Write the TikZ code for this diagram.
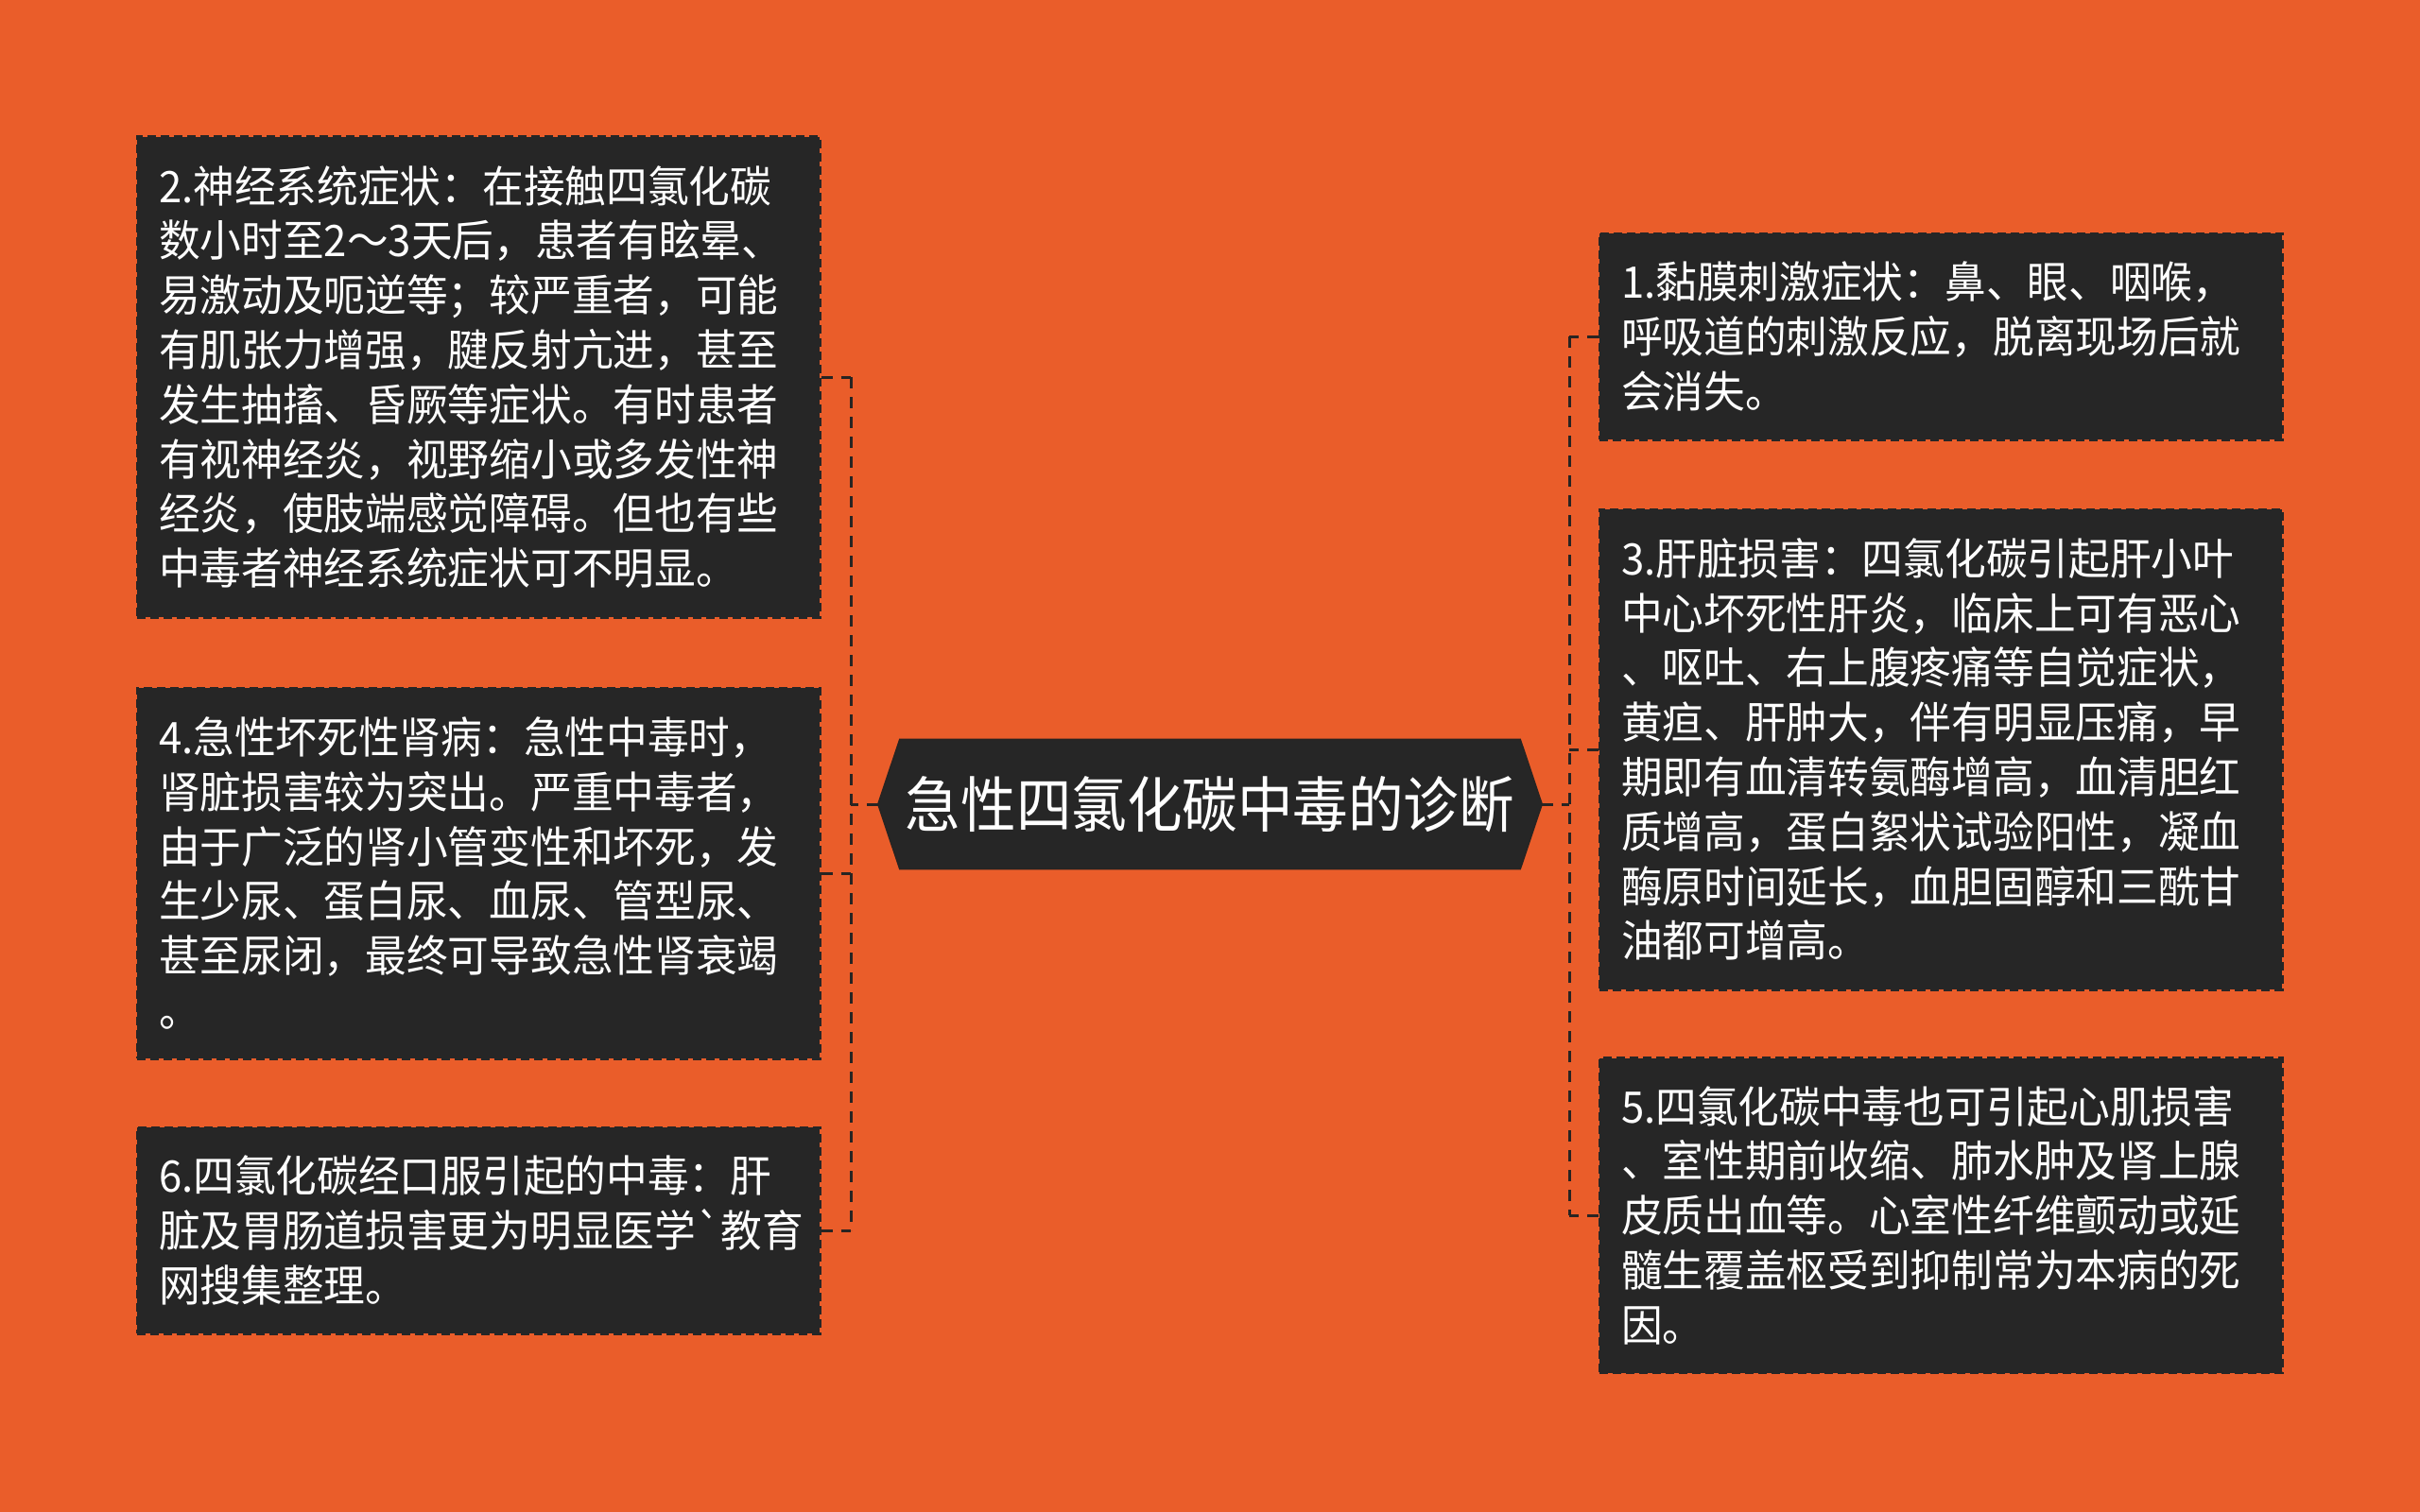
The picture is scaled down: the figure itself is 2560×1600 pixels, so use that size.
\documentclass[tikz,border=0pt]{standalone}
\usepackage{fontspec}
\setmainfont{Noto Sans CJK SC}
\newfontfamily\boxfont{Noto Sans CJK SC}[FakeStretch=0.95]
\newfontfamily\titlefont{Noto Sans CJK SC}[FakeStretch=0.915]
\definecolor{bg}{RGB}{234,93,42}
\definecolor{boxc}{RGB}{38,38,38}
\definecolor{linec}{RGB}{40,36,34}
\begin{document}
\begin{tikzpicture}[x=1pt,y=-1pt,
  box/.style={fill=boxc, draw=boxc, dash pattern=on 9pt off 5pt, line width=3pt,
    text=white, align=left, text width=676pt, inner xsep=23pt, inner ysep=0pt,
    minimum width=722pt, font=\boxfont\fontsize{46}{57.8}\selectfont},
  conn/.style={draw=linec, line width=3pt, dash pattern=on 12pt off 9pt},
  centre/.style={text=white, minimum width=656pt, minimum height=137pt, inner sep=0pt,
    font=\titlefont\fontsize{64}{70}\selectfont}]
\fill[bg] (0,0) rectangle (2560,1600);
\useasboundingbox (0,0) rectangle (2560,1600);

% centre node
\node[centre] (c) at (1280,851) {\phantom{急性四氯化碳中毒的诊断}};
\coordinate (cl) at ([xshift=-23pt]c.west);
\coordinate (cr) at ([xshift=23pt]c.east);
\fill[boxc, draw=linec, line width=1.5pt] (c.north west) -- (c.north east) -- (cr) -- (c.south east) -- (c.south west) -- (cl) -- cycle;
\node[centre] at (c.center) {急性四氯化碳中毒的诊断};

% left boxes
\node[box, minimum height=508pt] (b2) at (506,399) {2.神经系统症状：在接触四氯化碳\\数小时至2～3天后，患者有眩晕、\\易激动及呃逆等；较严重者，可能\\有肌张力增强，腱反射亢进，甚至\\发生抽搐、昏厥等症状。有时患者\\有视神经炎，视野缩小或多发性神\\经炎，使肢端感觉障碍。但也有些\\中毒者神经系统症状可不明显。};
\node[box, minimum height=392pt] (b4) at (506,924) {4.急性坏死性肾病：急性中毒时，\\肾脏损害较为突出。严重中毒者，\\由于广泛的肾小管变性和坏死，发\\生少尿、蛋白尿、血尿、管型尿、\\甚至尿闭，最终可导致急性肾衰竭\\。};
\node[box, minimum height=218pt] (b6) at (506,1302) {6.四氯化碳经口服引起的中毒：肝\\脏及胃肠道损害更为明显医学`教育\\网搜集整理。};

% right boxes
\node[box, minimum height=218pt] (b1) at (2053,356) {1.黏膜刺激症状：鼻、眼、咽喉，\\呼吸道的刺激反应，脱离现场后就\\会消失。};
\node[box, minimum height=508pt] (b3) at (2053,793) {3.肝脏损害：四氯化碳引起肝小叶\\中心坏死性肝炎，临床上可有恶心\\、呕吐、右上腹疼痛等自觉症状，\\黄疸、肝肿大，伴有明显压痛，早\\期即有血清转氨酶增高，血清胆红\\质增高，蛋白絮状试验阳性，凝血\\酶原时间延长，血胆固醇和三酰甘\\油都可增高。};
\node[box, minimum height=333pt] (b5) at (2053,1286) {5.四氯化碳中毒也可引起心肌损害\\、室性期前收缩、肺水肿及肾上腺\\皮质出血等。心室性纤维颤动或延\\髓生覆盖枢受到抑制常为本病的死\\因。};

% trunks
\coordinate (L) at (900,851);
\coordinate (R) at (1660,851);

\draw[conn] (cl) -- (L);
\draw[conn] (b2.east -| L) -- (b6.east -| L);
\draw[conn] (b2.east) -- (b2.east -| L);
\draw[conn] (b4.east) -- (b4.east -| L);
\draw[conn] (b6.east) -- (b6.east -| L);

\draw[conn] (cr) -- (R);
\draw[conn] (b1.west -| R) -- (b5.west -| R);
\draw[conn] (b1.west) -- (b1.west -| R);
\draw[conn] (b3.west) -- (b3.west -| R);
\draw[conn] (b5.west) -- (b5.west -| R);
\end{tikzpicture}
\end{document}
